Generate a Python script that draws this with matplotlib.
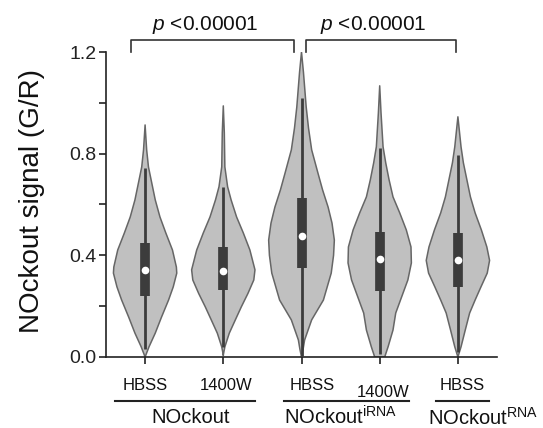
import numpy as np
import matplotlib
matplotlib.use("Agg")
from matplotlib import pyplot as plt

plt.rcParams['font.family'] = ['Liberation Sans', 'DejaVu Sans']
plt.rcParams['mathtext.fontset'] = 'custom'
plt.rcParams['mathtext.rm'] = 'Liberation Sans'
plt.rcParams['mathtext.it'] = 'Liberation Sans:italic'

# treatment labels under each violin
treatments = ['HBSS', '1400W', 'HBSS', '1400W', 'HBSS']
groups = ['NOckout', r'NOckout$^{\mathrm{iRNA}}$', r'NOckout$^{\mathrm{RNA}}$']
p_labels = [r'$p$ <0.00001', r'$p$ <0.00001']

# violin outlines: signal level and half width of the density
v1_y = [0.0, 0.04, 0.094, 0.157, 0.224, 0.276, 0.33, 0.354, 0.421, 0.488, 0.551, 0.618, 0.685, 0.748, 0.815, 0.913]
v1_w = [0.0, 0.05, 0.13, 0.21, 0.30, 0.36, 0.405, 0.40, 0.35, 0.265, 0.19, 0.13, 0.085, 0.043, 0.02, 0.0]
v2_y = [0.008, 0.04, 0.094, 0.146, 0.197, 0.25, 0.303, 0.343, 0.421, 0.488, 0.551, 0.618, 0.67, 0.748, 0.882, 0.988]
v2_w = [0.0, 0.02, 0.077, 0.154, 0.23, 0.315, 0.39, 0.405, 0.34, 0.256, 0.17, 0.10, 0.055, 0.02, 0.013, 0.0]
v3_y = [0.0, 0.03, 0.067, 0.146, 0.224, 0.33, 0.40, 0.46, 0.527, 0.59, 0.657, 0.724, 0.815, 0.90, 0.984, 1.12, 1.2]
v3_w = [0.0, 0.02, 0.04, 0.13, 0.28, 0.38, 0.41, 0.42, 0.39, 0.34, 0.27, 0.21, 0.13, 0.09, 0.06, 0.025, 0.0]
v4_y = [0.0, 0.04, 0.106, 0.173, 0.236, 0.303, 0.37, 0.433, 0.50, 0.567, 0.63, 0.697, 0.764, 0.827, 0.96, 1.067]
v4_w = [0.064, 0.107, 0.17, 0.205, 0.28, 0.36, 0.405, 0.40, 0.34, 0.256, 0.17, 0.12, 0.077, 0.043, 0.017, 0.0]
v5_y = [0.0, 0.04, 0.106, 0.173, 0.224, 0.276, 0.33, 0.38, 0.433, 0.50, 0.567, 0.63, 0.697, 0.764, 0.827, 0.945]
v5_w = [0.0, 0.04, 0.094, 0.15, 0.22, 0.295, 0.375, 0.405, 0.37, 0.30, 0.22, 0.16, 0.115, 0.07, 0.04, 0.0]

# box summaries: lower whisker, q1, median, q3, upper whisker
whisk_lo = [0.03, 0.04, 0.0, 0.01, 0.02]
q1 = [0.24, 0.264, 0.35, 0.26, 0.276]
median = [0.343, 0.339, 0.476, 0.386, 0.38]
q3 = [0.449, 0.433, 0.625, 0.492, 0.488]
whisk_hi = [0.744, 0.67, 1.02, 0.823, 0.795]

profiles = [(v1_y, v1_w), (v2_y, v2_w), (v3_y, v3_w), (v4_y, v4_w), (v5_y, v5_w)]

fig = plt.figure(figsize=(5.43, 4.28), dpi=100)
ax = fig.add_axes([0.1952, 0.1659, 0.7201, 0.7126])

for i, (yy, ww) in enumerate(profiles):
    yy = np.array(yy)
    ww = np.array(ww)
    ax.fill_betweenx(yy, i - ww, i + ww, facecolor='#c0c0c0', edgecolor='none', zorder=1)
    # outline as one closed path
    xs = np.concatenate([i - ww, (i + ww)[::-1], [i - ww[0]]])
    ys = np.concatenate([yy, yy[::-1], [yy[0]]])
    ax.plot(xs, ys, color='#666666', lw=1.1, zorder=2, solid_joinstyle='round')
    ax.plot([i, i], [whisk_lo[i], whisk_hi[i]], color='#3c3c3c', lw=2, zorder=3,
            solid_capstyle='butt')
    ax.plot([i, i], [q1[i], q3[i]], color='#3c3c3c', lw=7, zorder=4, solid_capstyle='butt')
    ax.plot(i, median[i], 'o', color='white', ms=5.5, mec='none', zorder=5)

ax.set_xlim(-0.5, 4.5)
ax.set_ylim(0, 1.2)
ax.set_yticks([0.0, 0.4, 0.8, 1.2])
ax.set_yticklabels(['0.0', '0.4', '0.8', '1.2'], fontsize=14, color='#222222')
ax.set_yticks([0.2, 0.6, 1.0], minor=True)
ax.set_xticks(range(5))
ax.set_xticklabels([])
ax.tick_params(axis='both', which='both', direction='out', length=5, width=1.2, color='#222222')
ax.tick_params(axis='y', pad=2)
for side in ['top', 'right']:
    ax.spines[side].set_visible(False)
for side in ['left', 'bottom']:
    ax.spines[side].set_linewidth(1.2)
    ax.spines[side].set_color('#222222')

fig.text(32 / 543, 0.53, 'NOckout signal (G/R)', rotation=90, fontsize=20,
         ha='center', va='center', color='#111111')

tr = ax.get_xaxis_transform()
label_x = [0.0, 1.04, 2.14, 3.04, 4.05]
label_y = [-0.095, -0.095, -0.095, -0.115, -0.095]
for name, lx, ly in zip(treatments, label_x, label_y):
    ax.text(lx, ly, name, transform=tr, ha='center', va='center', fontsize=12, color='#111111')

lines = [(-0.385, 1.41), (1.77, 3.37), (3.72, 4.40)]
for x0, x1 in lines:
    ax.plot([x0, x1], [-0.144, -0.144], transform=tr, color='#222222', lw=1.5, clip_on=False)

group_x = [0.58, 2.5, 4.32]
for name, gx in zip(groups, group_x):
    ax.text(gx, -0.198, name, transform=tr, ha='center', va='center', fontsize=14.5, color='#111111')

brackets = [(-0.18, 1.91), (2.06, 3.97)]
for (x0, x1), lab in zip(brackets, p_labels):
    ax.plot([x0, x0, x1, x1], [1.2, 1.248, 1.248, 1.2], color='#333333', lw=1.2, clip_on=False)
    ax.text((x0 + x1) / 2 - 0.1, 1.305, lab, ha='center', va='center', fontsize=15, color='#111111')

fig.savefig('out.png', dpi=100)
